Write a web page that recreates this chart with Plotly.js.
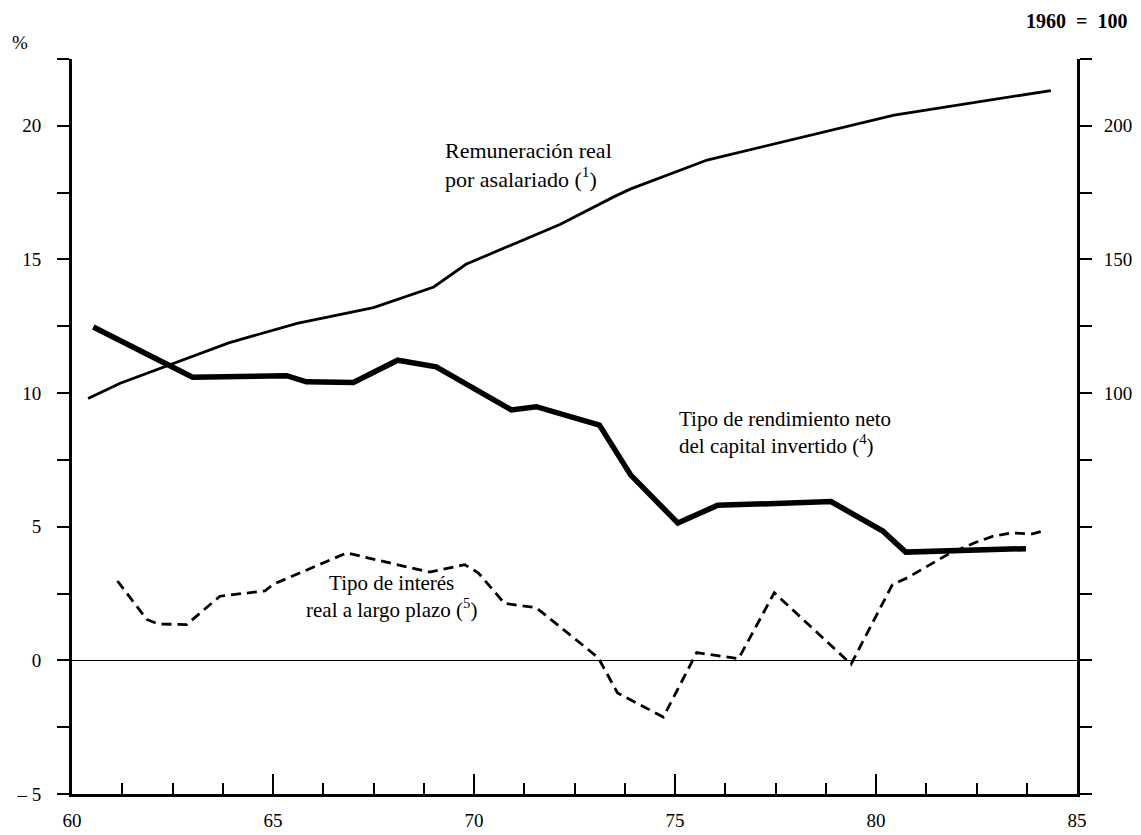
<!DOCTYPE html>
<html>
<head>
<meta charset="utf-8">
<script src="https://cdn.plot.ly/plotly-3.0.1.min.js"></script>
<style>html,body{margin:0;padding:0;background:#fff}#chart{width:1141px;height:835px}</style>
</head>
<body>
<div id="chart"></div>
<script>
// Remuneración real por asalariado (1960 = 100), right axis
const remunYears = [60.4, 61.2, 63.9, 65.6, 67.5, 69.0, 69.8, 72.15, 73.5, 73.9, 75.8, 80.45, 84.35];
const remunIndex = [98, 103.7, 118.8, 126.1, 132, 139.7, 148.2, 163.2, 173.6, 176.4, 187.2, 204, 213.2];

// Tipo de rendimiento neto del capital invertido (%), left axis
const rendYears = [60.53, 63.0, 65.34, 65.83, 67.0, 68.1, 69.06, 70.93, 71.55, 73.12, 73.9, 75.07, 76.06, 78.88, 80.16, 80.74, 83.73];
const rendVals  = [12.47, 10.59, 10.65, 10.42, 10.40, 11.23, 10.98, 9.37, 9.49, 8.80, 6.93, 5.14, 5.80, 5.94, 4.85, 4.05, 4.18];

// Tipo de interés real a largo plazo (%), left axis
const intYears = [61.13, 61.86, 62.14, 62.85, 63.68, 64.8, 65.0, 66.83, 68.9, 69.77, 70.11, 70.76, 71.55, 73.09, 73.57, 74.71, 75.54, 76.58, 77.47, 79.38, 80.41, 80.78, 81.78, 82.44, 82.9, 83.39, 83.89, 84.14];
const intVals  = [2.97, 1.53, 1.36, 1.34, 2.40, 2.60, 2.84, 4.02, 3.30, 3.58, 3.27, 2.13, 1.97, 0.10, -1.22, -2.12, 0.29, 0.06, 2.53, -0.14, 2.84, 3.09, 3.96, 4.39, 4.64, 4.77, 4.73, 4.83];

// Tick labels
const leftTickVals  = [-5, 0, 5, 10, 15, 20];
const leftTickText  = ['– 5', '0', '5', '10', '15', '20'];
const rightTickVals = [100, 150, 200];
const rightTickText = ['100', '150', '200'];
const xTickVals = [60, 65, 70, 75, 80, 85];
const xTickText = ['60', '65', '70', '75', '80', '85'];

const FONT = 'Liberation Serif, Times New Roman, serif';

const traces = [
  {x: remunYears, y: remunIndex, yaxis: 'y2', mode: 'lines', line: {color: '#000', width: 2.8}, hoverinfo: 'none'},
  {x: rendYears, y: rendVals, mode: 'lines', line: {color: '#000', width: 5.5}, hoverinfo: 'none'},
  {x: intYears, y: intVals, mode: 'lines', line: {color: '#000', width: 2.8, dash: '10px,6px'}, hoverinfo: 'none'}
];

const layout = {
  width: 1141, height: 835,
  margin: {l: 72, r: 64, t: 59, b: 41},
  paper_bgcolor: '#fff', plot_bgcolor: '#fff',
  showlegend: false,
  font: {family: FONT, color: '#000', size: 19},
  xaxis: {
    range: [60, 85], showgrid: false, zeroline: false,
    showline: true, linecolor: '#000', linewidth: 2.5,
    tickmode: 'array', tickvals: xTickVals, ticktext: xTickText,
    ticks: 'inside', ticklen: 20, tickwidth: 2, tickcolor: '#000',
    minor: {tickmode: 'linear', tick0: 60, dtick: 1.25, ticks: 'inside', ticklen: 11, tickwidth: 2, tickcolor: '#000', showgrid: false},
    ticklabelstandoff: 8,
    tickfont: {family: FONT, size: 19, color: '#000'}
  },
  yaxis: {
    range: [-5, 22.5], showgrid: false,
    zeroline: true, zerolinecolor: '#000', zerolinewidth: 1.5,
    showline: true, linecolor: '#000', linewidth: 3,
    tickmode: 'array', tickvals: leftTickVals, ticktext: leftTickText,
    ticks: 'outside', ticklen: 12, tickwidth: 2, tickcolor: '#000',
    minor: {tickmode: 'linear', tick0: -5, dtick: 2.5, ticks: 'outside', ticklen: 12, tickwidth: 2, tickcolor: '#000', showgrid: false},
    ticklabelstandoff: 12,
    tickfont: {family: FONT, size: 19, color: '#000'}
  },
  yaxis2: {
    range: [-50, 225], overlaying: 'y', side: 'right', showgrid: false, zeroline: false,
    showline: true, linecolor: '#000', linewidth: 3,
    tickmode: 'array', tickvals: rightTickVals, ticktext: rightTickText,
    ticks: 'outside', ticklen: 12, tickwidth: 2, tickcolor: '#000',
    minor: {tickmode: 'linear', tick0: 0, dtick: 25, ticks: 'outside', ticklen: 12, tickwidth: 2, tickcolor: '#000', showgrid: false},
    ticklabelstandoff: 8,
    tickfont: {family: FONT, size: 19, color: '#000'}
  },
  annotations: [
    {text: 'Remuneración real<br>por asalariado (<sup>1</sup>)', xref: 'x', yref: 'y', x: 71.36, y: 18.53,
     xanchor: 'center', yanchor: 'middle', align: 'left', showarrow: false, font: {family: FONT, size: 22, color: '#000'}},
    {text: 'Tipo de rendimiento neto<br>del capital invertido (<sup>4</sup>)', xref: 'x', yref: 'y', x: 75.06, y: 8.51,
     xanchor: 'left', yanchor: 'middle', align: 'left', showarrow: false, font: {family: FONT, size: 21, color: '#000'}},
    {text: 'Tipo de interés<br>real a largo plazo (<sup>5</sup>)', xref: 'x', yref: 'y', x: 67.96, y: 2.39,
     xanchor: 'center', yanchor: 'middle', align: 'center', showarrow: false, font: {family: FONT, size: 21, color: '#000'}},
    {text: '%', xref: 'paper', yref: 'paper', x: -52/1005, y: 1 + (59-42)/735,
     xanchor: 'center', yanchor: 'middle', showarrow: false, font: {family: FONT, size: 19, color: '#000'}},
    {text: '<b>1960  =  100</b>', xref: 'paper', yref: 'paper', x: 1 + (1129-1077)/1005, y: 1 + (59-21)/735,
     xanchor: 'right', yanchor: 'middle', showarrow: false, font: {family: FONT, size: 20, color: '#000'}}
  ]
};

Plotly.newPlot('chart', traces, layout, {staticPlot: true, displayModeBar: false});
</script>
</body>
</html>
